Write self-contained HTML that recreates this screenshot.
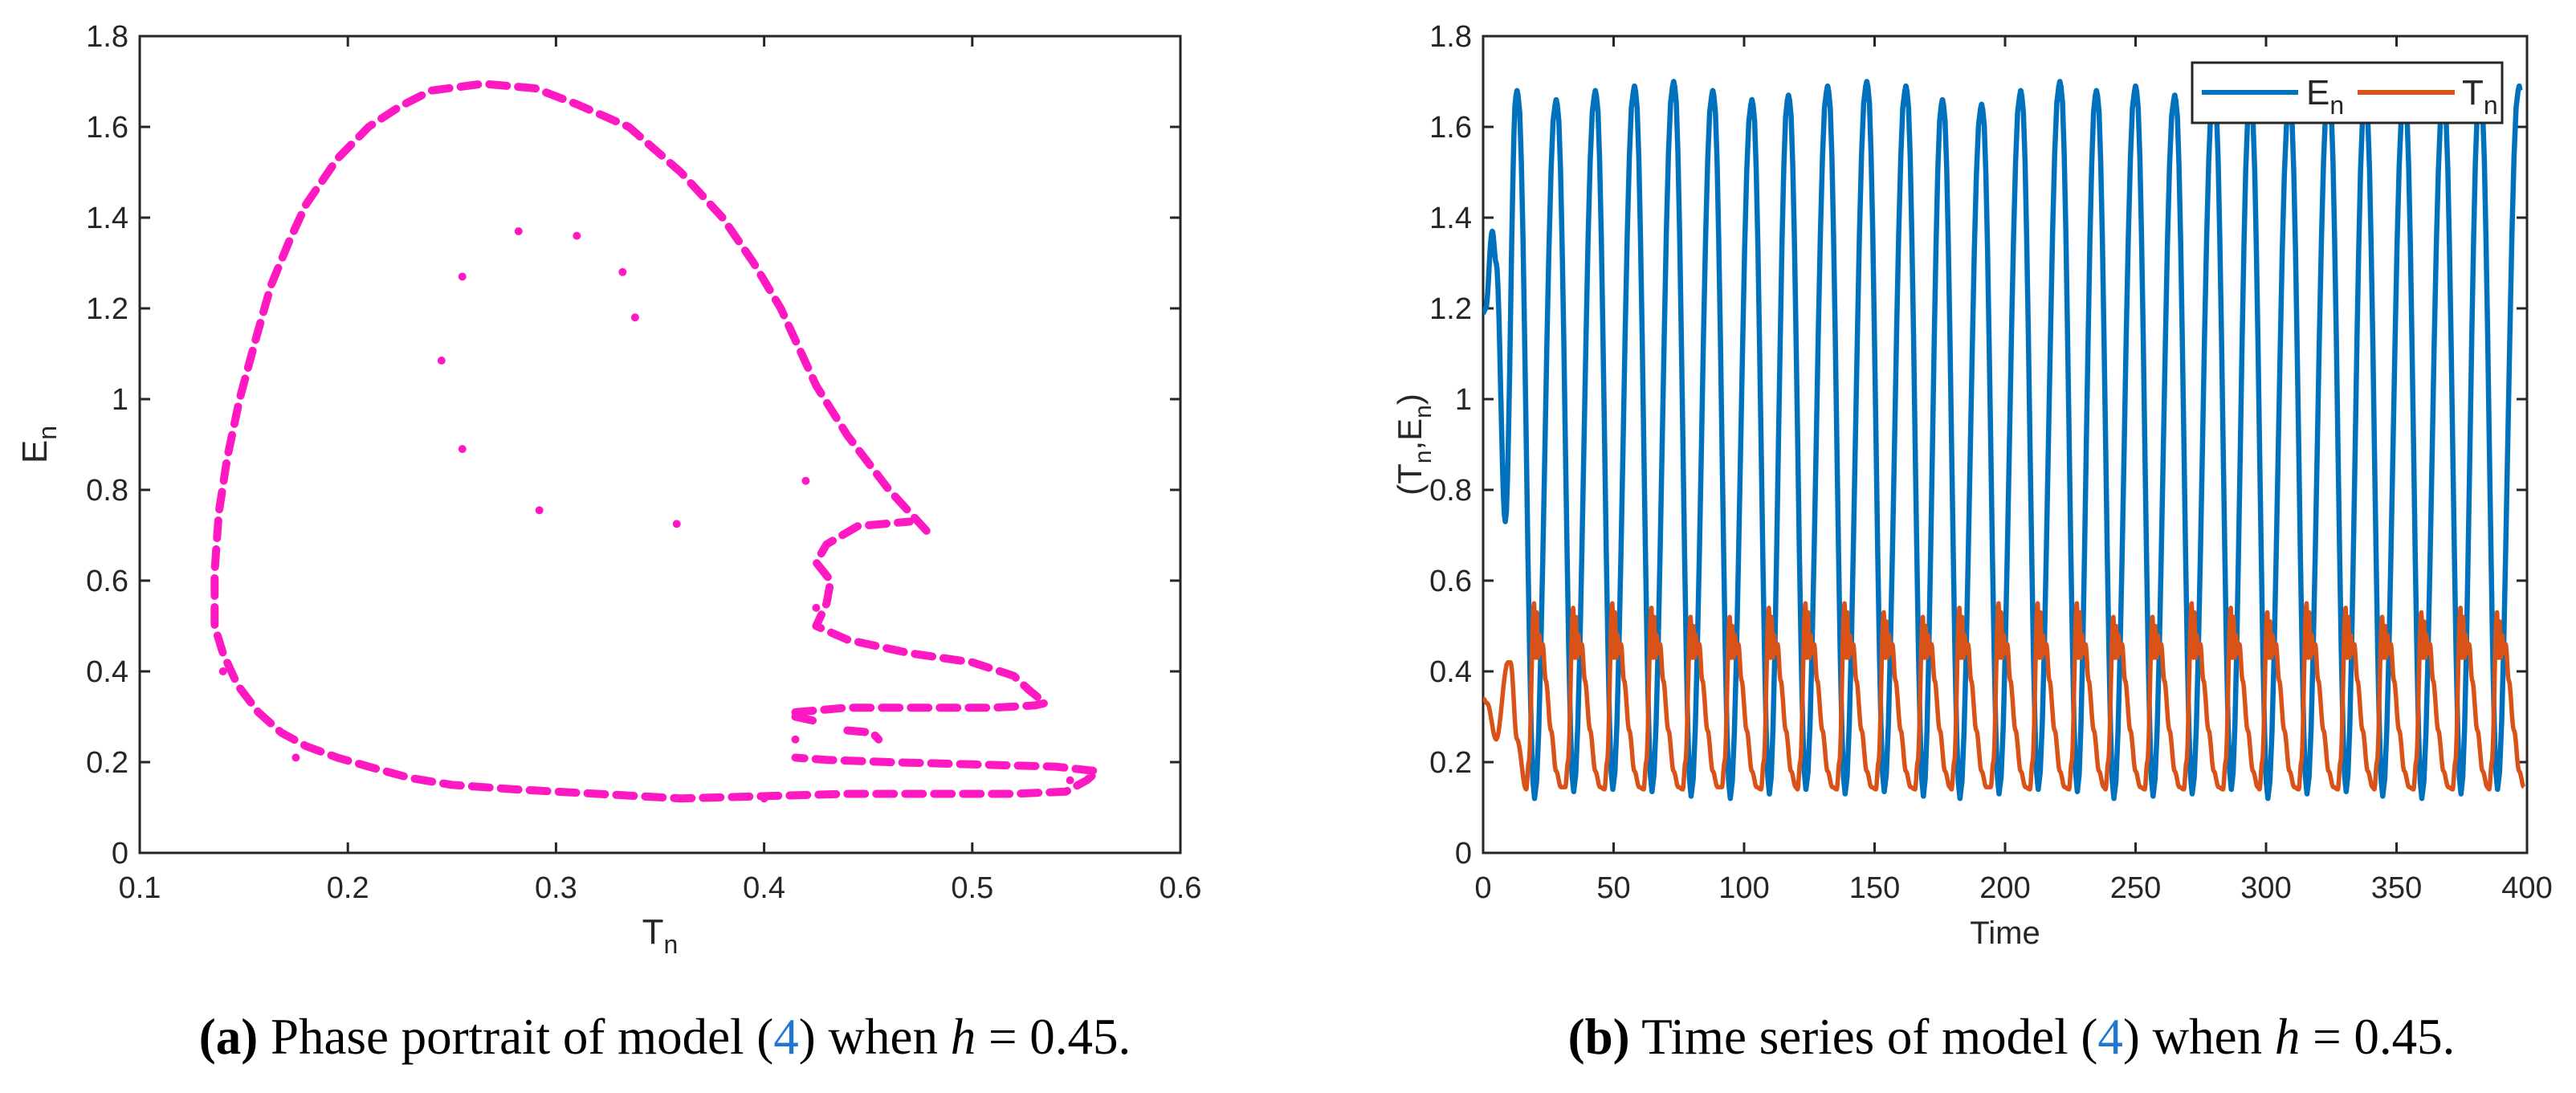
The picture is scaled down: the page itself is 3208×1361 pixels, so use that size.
<!DOCTYPE html>
<html><head><meta charset="utf-8">
<style>
html,body{margin:0;padding:0;background:#fff;}
svg{display:block;}
text{font-family:"Liberation Sans",sans-serif;fill:#262626;}
.cap{font-family:"Liberation Serif",serif;fill:#000;}
</style></head>
<body>
<svg id="fig" width="3208" height="1361" viewBox="0 0 3208 1361" xmlns="http://www.w3.org/2000/svg">
<g id="left"></g>
<g id="right"></g>
<text class="cap" x="828" y="1312" font-size="63" text-anchor="middle"><tspan font-weight="bold">(a)</tspan> Phase portrait of model (<tspan fill="#1f77d0">4</tspan>) when <tspan font-style="italic">h</tspan> = 0.45.</text>
<text class="cap" x="2505" y="1312" font-size="63" text-anchor="middle"><tspan font-weight="bold">(b)</tspan> Time series of model (<tspan fill="#1f77d0">4</tspan>) when <tspan font-style="italic">h</tspan> = 0.45.</text>
</svg>
<script>
// ---------- Phase portrait data ----------
const phaseOuter = [[0.478,0.71],[0.46,0.8],[0.44,0.92],[0.425,1.03],[0.418,1.1],[0.408,1.2],[0.395,1.3],[0.38,1.4],[0.36,1.5],[0.335,1.6],[0.31,1.65],[0.29,1.685],[0.265,1.695],[0.24,1.68],[0.225,1.645],[0.21,1.6],[0.195,1.53],[0.18,1.43],[0.172,1.35],[0.163,1.25],[0.155,1.12],[0.148,1.0],[0.142,0.87],[0.138,0.75],[0.136,0.62],[0.136,0.5],[0.14,0.44],[0.147,0.37],[0.157,0.31],[0.168,0.265],[0.18,0.235],[0.195,0.21],[0.21,0.19],[0.23,0.165],[0.25,0.15],[0.28,0.14],[0.32,0.13],[0.36,0.12],[0.4,0.125],[0.44,0.13],[0.48,0.13],[0.52,0.13],[0.545,0.135],[0.555,0.16],[0.56,0.18],[0.54,0.19],[0.5,0.195],[0.46,0.2],[0.43,0.205],[0.415,0.21]];
const phaseInner = [[0.415,0.31],[0.44,0.32],[0.48,0.32],[0.51,0.32],[0.53,0.325],[0.535,0.33],[0.527,0.36],[0.52,0.39],[0.5,0.42],[0.47,0.44],[0.44,0.47],[0.425,0.5],[0.43,0.55],[0.432,0.6],[0.425,0.64],[0.43,0.68],[0.445,0.72],[0.47,0.73]];
const phaseSmall = [[0.415,0.3],[0.425,0.29]];
const phaseSmall2 = [[0.44,0.27],[0.452,0.265],[0.455,0.25]];
const phaseDots = [[0.282,1.37],[0.31,1.36],[0.332,1.28],[0.338,1.18],[0.255,1.27],[0.245,1.085],[0.255,0.89],[0.292,0.755],[0.358,0.725],[0.42,0.82],[0.425,0.54],[0.415,0.25],[0.547,0.16],[0.4,0.12],[0.175,0.21],[0.14,0.4]];
const phaseXTicks = [0.1,0.2,0.3,0.4,0.5,0.6];
const phaseYTicks = [0,0.2,0.4,0.6,0.8,1,1.2,1.4,1.6,1.8];

// ---------- Time series data ----------
const ePeakTimes = [13,28,43,58,73,88,103,117,132,147,162,176,191,206,221,235,250,265,280,294,309,324,338,353,368,382,397];
const ePeakVals  = [1.68,1.66,1.68,1.69,1.70,1.68,1.66,1.67,1.69,1.70,1.69,1.66,1.65,1.68,1.70,1.68,1.69,1.67,1.68,1.66,1.65,1.68,1.66,1.67,1.66,1.68,1.69];
const eTroughVals= [0.12,0.135,0.14,0.135,0.125,0.12,0.13,0.14,0.13,0.135,0.125,0.12,0.13,0.14,0.135,0.12,0.125,0.13,0.14,0.12,0.13,0.135,0.125,0.12,0.13,0.14,0.13];
const tPeakVals  = [0.55,0.54,0.55,0.54,0.52,0.52,0.54,0.55,0.55,0.53,0.52,0.54,0.55,0.55,0.55,0.52,0.52,0.55,0.54,0.53,0.55,0.54,0.52,0.53,0.54,0.53,0.52];
const tTroughVals= [0.14,0.145,0.14,0.14,0.14,0.145,0.14,0.14,0.14,0.14,0.14,0.14,0.145,0.14,0.14,0.14,0.14,0.14,0.14,0.14,0.14,0.14,0.14,0.14,0.14,0.14,0.14];
const eStart = [[0,1.19],[1,1.2],[3.5,1.37],[5,1.3],[8.5,0.73]];
const tStart = [[0,0.34],[1.5,0.33],[5,0.25],[9.5,0.42],[10.5,0.42],[13,0.25]];
const timeXTicks = [0,50,100,150,200,250,300,350,400];
const timeYTicks = [0,0.2,0.4,0.6,0.8,1,1.2,1.4,1.6,1.8];

const NS="http://www.w3.org/2000/svg";
function mk(tag, attrs, parent){const e=document.createElementNS(NS,tag);for(const k in attrs)e.setAttribute(k,attrs[k]);parent.appendChild(e);return e;}

function axesBox(g,L,T,R,B,xt,yt,xs,ys,prefix){
  const box=mk('rect',{x:L,y:T,width:R-L,height:B-T,fill:'none',stroke:'#262626','stroke-width':3},g);
  
  
  xt.forEach(v=>{
    const x=xs(v);
    mk('path',{d:`M${x},${B}v-13M${x},${T}v13`,stroke:'#262626','stroke-width':3},g);
    const t=mk('text',{x:x,y:B+56,'font-size':38,'text-anchor':'middle'},g);
    t.textContent=String(v);
    
    
  });
  yt.forEach(v=>{
    const y=ys(v);
    mk('path',{d:`M${L},${y}h13M${R},${y}h-13`,stroke:'#262626','stroke-width':3},g);
    const t=mk('text',{x:L-14,y:y+13,'font-size':38,'text-anchor':'end'},g);
    t.textContent=String(v);
    
    
  });
}

// ---------- Left chart ----------
(function(){
  const g=document.getElementById('left');
  const L=174,R=1470,T=45,B=1062;
  const xs=v=>L+(v-0.1)/0.5*(R-L);
  const ys=v=>B-v/1.8*(B-T);
  axesBox(g,L,T,R,B,phaseXTicks,phaseYTicks,xs,ys,'phase');
  const col='#ff19c2';
  [phaseOuter,phaseInner,phaseSmall,phaseSmall2].forEach((arr,i)=>{
    const d=arr.map((p,j)=>(j?'L':'M')+xs(p[0]).toFixed(1)+','+ys(p[1]).toFixed(1)).join('');
    const p=mk('path',{d:d,fill:'none',stroke:col,'stroke-width':10,'stroke-linecap':'round','stroke-linejoin':'round','stroke-dasharray':'22 14'},g);
    
    
  });
  phaseDots.forEach(pt=>{
    const c=mk('circle',{cx:xs(pt[0]),cy:ys(pt[1]),r:5,fill:col},g);
    
    
  });
  const xl=mk('text',{x:(L+R)/2,y:1175,'font-size':44,'text-anchor':'middle'},g);
  xl.innerHTML='T<tspan font-size="32" dy="12">n</tspan>';
  
  
  const yl=mk('text',{transform:`translate(58,${(T+B)/2}) rotate(-90)`,'font-size':44,'text-anchor':'middle'},g);
  yl.innerHTML='E<tspan font-size="32" dy="12">n</tspan>';
  
  
})();

// ---------- Right chart ----------
(function(){
  const g=document.getElementById('right');
  const L=1847,R=3147,T=45,B=1062;
  const xs=v=>L+v/400*(R-L);
  const ys=v=>B-v/1.8*(B-T);
  axesBox(g,L,T,R,B,timeXTicks,timeYTicks,xs,ys,'time');
  const eK=eStart.slice(), tK=tStart.slice();
  ePeakTimes.forEach((tp,i)=>{
    const pk=ePeakVals[i], tr=eTroughVals[i], tpk=tPeakVals[i], ttr=tTroughVals[i];
    eK.push([tp-0.4,pk-0.01],[tp,pk],[tp+0.4,pk-0.01],[tp+6.7,tr]);
    tK.push([tp+3.5,ttr],[tp+4.5,0.2],[tp+6.5,tpk],[tp+7,0.43],[tp+7.5,tpk-0.02],[tp+8,0.43],[tp+8.5,0.48],[tp+9,0.44],[tp+9.8,0.46],[tp+11,0.38],[tp+13,0.27],[tp+15,0.18],[tp+16.8,0.145]);
  });
  function path(K){
    K=K.filter(p=>p[0]<=400);
    let d='';
    for(let i=0;i<K.length;i++){
      if(i===0){d+='M'+xs(K[0][0]).toFixed(1)+','+ys(K[0][1]).toFixed(1);continue;}
      const a=K[i-1],b=K[i];
      for(let s=1;s<=10;s++){
        const f=s/10, w=(1-Math.cos(Math.PI*f))/2;
        d+='L'+xs(a[0]+(b[0]-a[0])*f).toFixed(1)+','+ys(a[1]+(b[1]-a[1])*w).toFixed(1);
      }
    }
    return d;
  }
  const clip=mk('clipPath',{id:'rc'},g);
  mk('rect',{x:L,y:T,width:R-L,height:B-T},clip);
  const e=mk('path',{d:path(eK),fill:'none',stroke:'#0072BD','stroke-width':6.5,'stroke-linejoin':'round','clip-path':'url(#rc)'},g);
  
  
  const t=mk('path',{d:path(tK),fill:'none',stroke:'#D95319','stroke-width':5.5,'stroke-linejoin':'round','clip-path':'url(#rc)'},g);
  
  
  const lg=mk('g',{},g);
  
  
  mk('rect',{x:2730,y:78,width:386,height:75,fill:'#fff',stroke:'#262626','stroke-width':3},lg);
  mk('path',{d:'M2742,115H2862',stroke:'#0072BD','stroke-width':6},lg);
  mk('path',{d:'M2936,115H3057',stroke:'#D95319','stroke-width':6},lg);
  const le=mk('text',{x:2872,y:130,'font-size':44,fill:'#000'},lg);
  le.innerHTML='E<tspan font-size="32" dy="12">n</tspan>';
  
  
  const lt=mk('text',{x:3066,y:130,'font-size':44,fill:'#000'},lg);
  lt.innerHTML='T<tspan font-size="32" dy="12">n</tspan>';
  
  
  const xl=mk('text',{x:(L+R)/2,y:1175,'font-size':40,'text-anchor':'middle'},g);
  xl.textContent='Time';
  
  
  const yl=mk('text',{transform:`translate(1770,${(T+B)/2}) rotate(-90)`,'font-size':42,'text-anchor':'middle'},g);
  yl.innerHTML='(T<tspan font-size="30" dy="12">n</tspan><tspan dy="-12">,E</tspan><tspan font-size="30" dy="12">n</tspan><tspan dy="-12">)</tspan>';
  
  
})();
</script>
</body></html>
